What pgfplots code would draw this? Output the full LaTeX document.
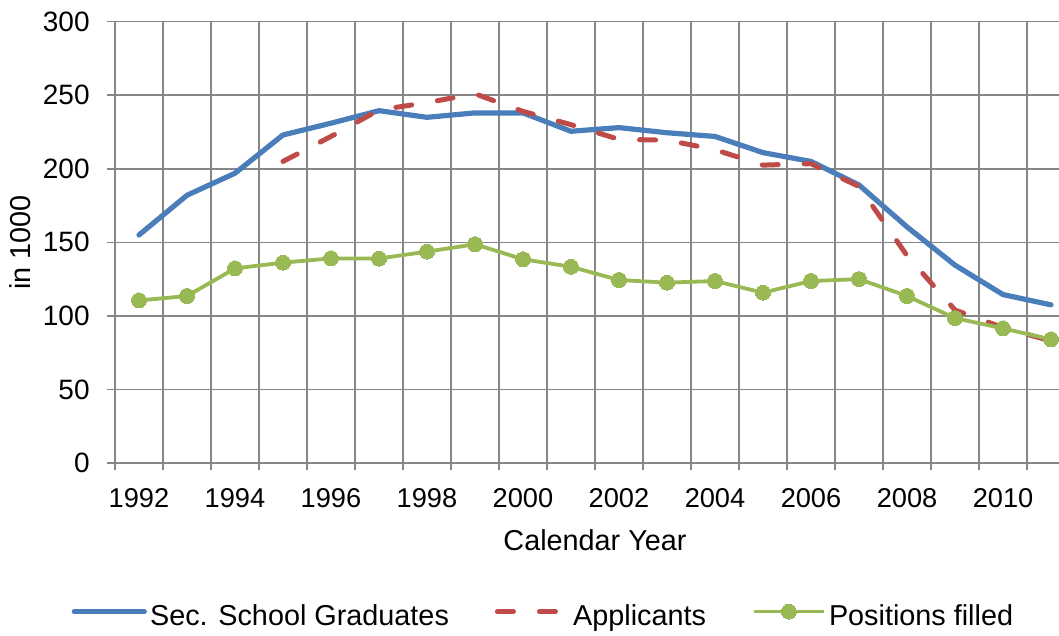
\documentclass[border=0pt]{standalone}
\usepackage{fontspec}
\setmainfont{Liberation Sans}
\usepackage{pgfplots}
\pgfplotsset{compat=1.18}
\definecolor{gridgray}{HTML}{868686}
\definecolor{sblue}{HTML}{4A7EBB}
\definecolor{sred}{HTML}{BE4B48}
\definecolor{sgreen}{HTML}{98B954}

\pgfplotstableread{
x blue
0 155
1 182
2 197
3 223
4 231
5 239.5
6 235
7 238
8 238
9 225.5
10 228
11 224.5
12 222
13 211
14 205
15 189
16 160.5
17 134.5
18 114.5
19 107.5
}\gradtable
\pgfplotstableread{
x red
3 205
4 222
5 240
6 245
7 251
8 239
9 230
10 220
11 219.5
12 213
13 202.5
14 203.5
15 188
16 141
17 104
18 92
19 83
}\apptable
\pgfplotstableread{
x green
0 110.5
1 113.5
2 132.3
3 136.2
4 139.1
5 139
6 143.7
7 148.7
8 138.5
9 133.4
10 124.4
11 122.6
12 123.7
13 115.8
14 123.7
15 125
16 113.5
17 98.5
18 91.5
19 84
}\postable

\begin{document}
\begin{tikzpicture}
\begin{axis}[
  at={(0pt,0pt)}, anchor=south west,
  scale only axis, width=472pt, height=220.65pt,
  xmin=-0.5, xmax=19.1667, ymin=0, ymax=300,
  axis x line*=bottom, axis y line*=left,
  axis line style={draw=gridgray, line width=0.75pt},
  xtick={0,2,...,18},
  xticklabels={1992,1994,1996,1998,2000,2002,2004,2006,2008,2010},
  minor xtick={-0.5,0.5,...,19.5},
  ytick={0,50,...,300},
  ymajorgrids, xminorgrids,
  major grid style={draw=gridgray, line width=0.75pt},
  minor grid style={draw=gridgray, line width=0.75pt},
  tick align=outside,
  major tick length=4pt, minor tick length=3.5pt,
  major x tick style={draw=none},
  minor x tick style={draw=gridgray, line width=0.75pt},
  ytick style={draw=gridgray, line width=0.75pt},
  /pgf/number format/assume math mode=true,
  ticklabel style={inner sep=0pt},
  xticklabel style={font=\fontsize{13.6}{16}\selectfont, anchor=base, yshift=-18.5pt},
  yticklabel style={font=\fontsize{14}{16}\selectfont, anchor=east, xshift=-8.5pt},
  xlabel={Calendar Year},
  ylabel={in 1000},
  xlabel style={font=\fontsize{14.4}{17}\selectfont, inner sep=0pt, at={(axis description cs:0.5085,0)}, anchor=base, yshift=-43.5pt},
  ylabel style={font=\fontsize{14.4}{17}\selectfont, inner sep=0pt, at={(axis description cs:-0.1,0.5)}, anchor=center},
  legend columns=3,
  legend style={draw=none, fill=none, inner sep=0pt, outer sep=0pt,
    at={(axis description cs:-0.04587,-0.3474)}, anchor=west,
    font=\fontsize{14.4}{17}\selectfont,
    nodes={inner sep=0pt},
    /tikz/every odd column/.append style={column sep=1.6pt},
    /tikz/every even column/.append style={column sep=23pt}},
  legend cell align=left,
  legend image code/.code={\draw[mark repeat=2,mark phase=2,#1] plot coordinates {(0pt,2.5pt) (17.5pt,2.5pt) (35pt,2.5pt)};},
]
\addplot[sblue, line width=2.6pt, line cap=round, line join=round] table[x=x,y=blue] {\gradtable};
\addlegendentry{Sec. School Graduates}
\addplot[sred, line width=2.5pt, line cap=round, line join=round, dash pattern=on 8pt off 13pt] table[x=x,y=red] {\apptable};
\addlegendentry{Applicants}
\addplot[sgreen, line width=1.9pt, line join=round, mark=*, mark size=3.75pt, mark options={solid, fill=sgreen, draw=sgreen, line width=0pt}] table[x=x,y=green] {\postable};
\addlegendentry{Positions filled}
\end{axis}
\pgfresetboundingbox
\useasboundingbox (-57.5pt,-86.5pt) rectangle (472pt,231.5pt);
\end{tikzpicture}
\end{document}
